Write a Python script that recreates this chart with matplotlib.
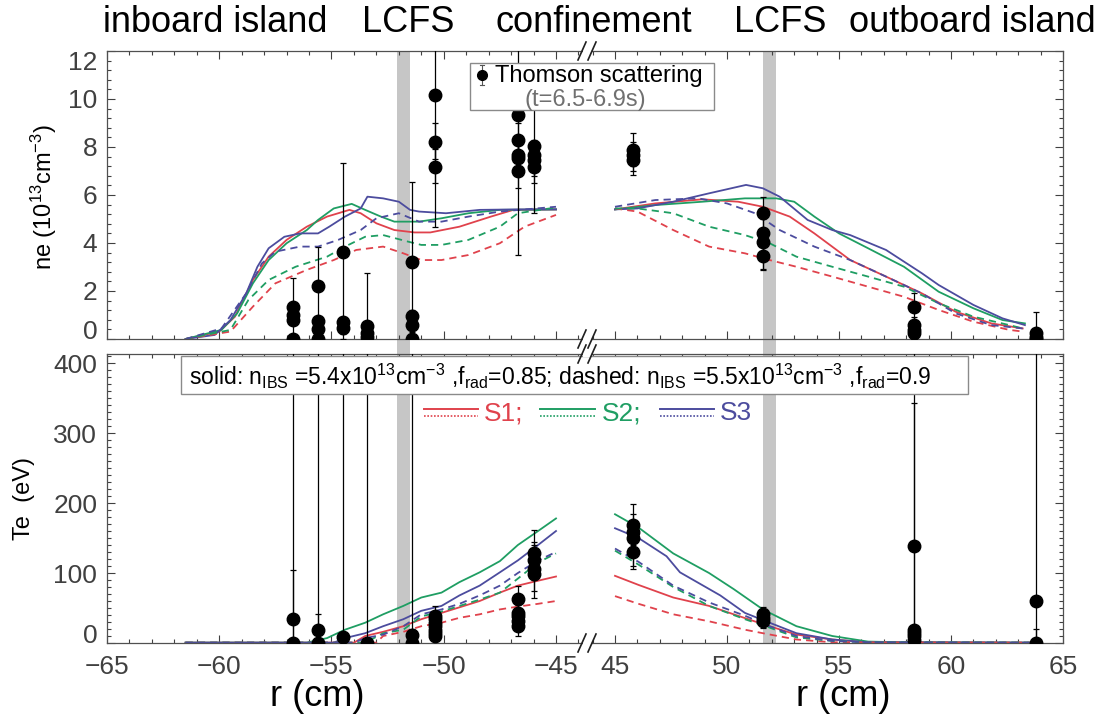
import matplotlib
matplotlib.use('Agg')
import matplotlib.pyplot as plt
from matplotlib.ticker import MultipleLocator
from matplotlib.lines import Line2D
from matplotlib.patches import Rectangle
import matplotlib.transforms as mtransforms
import numpy as np

plt.rcParams['font.family'] = ['Liberation Sans', 'DejaVu Sans']
plt.rcParams['mathtext.fontset'] = 'custom'
plt.rcParams['mathtext.rm'] = 'Liberation Sans'
plt.rcParams['mathtext.it'] = 'Liberation Sans'
plt.rcParams['mathtext.default'] = 'regular'

# ---------------- data ----------------
C_RED = '#e0424c'
C_GREEN = '#1f9e63'
C_BLUE = '#4c4c9e'

# ne, inboard side (solid / dashed, S1 red, S2 green, S3 blue)
ne_in_s1_r = [-61.5, -60.0, -59.3, -58.5, -57.8, -57.0, -56.1, -55.2, -54.2, -53.7, -53.0, -52.2, -51.3, -50.6, -49.3, -47.9, -46.9, -45.0]
ne_in_s1_v = [0.0, 0.31, 0.93, 2.46, 3.43, 4.13, 4.68, 5.10, 5.38, 5.24, 4.82, 4.54, 4.44, 4.44, 4.68, 5.10, 5.38, 5.40]
ne_in_s2_r = [-61.5, -59.9, -59.2, -58.5, -57.8, -57.0, -56.1, -55.6, -54.9, -54.1, -53.5, -52.8, -52.2, -51.1, -50.1, -48.9, -47.5, -45.0]
ne_in_s2_v = [0.0, 0.38, 1.07, 2.32, 3.29, 3.99, 4.54, 4.96, 5.44, 5.63, 5.38, 5.10, 4.89, 4.89, 5.03, 5.24, 5.38, 5.40]
ne_in_s3_r = [-61.5, -60.2, -59.5, -58.8, -58.3, -57.8, -57.1, -56.4, -55.6, -55.1, -54.4, -53.7, -53.4, -52.7, -52.0, -51.5, -51.1, -49.9, -48.4, -46.7, -45.0]
ne_in_s3_v = [0.0, 0.17, 0.79, 1.90, 3.01, 3.78, 4.26, 4.40, 4.40, 4.68, 5.10, 5.44, 5.93, 5.86, 5.72, 5.38, 5.31, 5.24, 5.38, 5.40, 5.40]
ne_in_d1_r = [-61.5, -59.5, -58.5, -57.5, -56.1, -54.9, -53.9, -52.7, -51.8, -51.0, -50.1, -48.9, -47.5, -46.4, -45.0]
ne_in_d1_v = [0.0, 0.31, 1.35, 2.32, 2.88, 3.29, 3.71, 3.85, 3.57, 3.29, 3.29, 3.50, 3.99, 4.68, 5.17]
ne_in_d2_r = [-61.5, -59.5, -58.7, -57.8, -56.6, -55.2, -54.4, -53.5, -52.7, -51.6, -51.0, -50.1, -48.9, -47.5, -46.7, -45.0]
ne_in_d2_v = [0.0, 0.38, 1.63, 2.46, 3.01, 3.43, 3.85, 4.26, 4.33, 4.06, 3.92, 3.92, 4.13, 4.68, 5.24, 5.48]
ne_in_d3_r = [-61.5, -59.9, -58.8, -58.1, -57.5, -56.4, -55.6, -54.7, -53.7, -53.0, -52.0, -51.1, -50.1, -48.9, -47.5, -45.0]
ne_in_d3_v = [0.0, 0.44, 1.90, 3.15, 3.64, 3.85, 3.85, 4.13, 4.54, 5.03, 5.24, 4.89, 4.89, 5.10, 5.31, 5.51]

# ne, outboard side
ne_out_s1_r = [45.0, 46.8, 48.9, 50.5, 51.6, 52.8, 53.9, 55.5, 57.1, 58.7, 60.2, 61.8, 63.2]
ne_out_s1_v = [5.40, 5.65, 5.82, 5.72, 5.51, 5.10, 4.40, 3.29, 2.60, 1.90, 1.14, 0.65, 0.44]
ne_out_s2_r = [45.0, 46.8, 48.9, 50.8, 52.2, 53.0, 53.9, 55.0, 56.3, 57.9, 59.45, 61.0, 62.3, 63.3]
ne_out_s2_v = [5.40, 5.58, 5.72, 5.86, 5.86, 5.72, 5.10, 4.40, 3.78, 3.01, 1.97, 1.28, 0.79, 0.65]
ne_out_s3_r = [45.0, 46.0, 47.6, 49.2, 50.85, 51.6, 52.35, 53.6, 54.7, 55.5, 57.1, 58.7, 59.45, 61.0, 62.3, 63.3]
ne_out_s3_v = [5.40, 5.44, 5.72, 6.07, 6.42, 6.28, 5.93, 4.96, 4.54, 4.33, 3.71, 2.74, 2.25, 1.42, 0.86, 0.58]
ne_out_d1_r = [45.0, 46.0, 47.6, 49.2, 50.8, 51.9, 53.1, 54.7, 56.3, 57.9, 59.45, 61.0, 62.6, 63.2]
ne_out_d1_v = [5.44, 5.31, 4.54, 3.85, 3.57, 3.29, 3.01, 2.60, 2.18, 1.76, 1.21, 0.72, 0.38, 0.31]
ne_out_d2_r = [45.0, 46.0, 47.6, 49.2, 50.8, 51.9, 53.1, 54.7, 56.3, 57.9, 59.45, 61.0, 62.6, 63.2]
ne_out_d2_v = [5.44, 5.44, 5.24, 4.68, 4.33, 3.99, 3.43, 3.01, 2.60, 2.18, 1.49, 0.93, 0.58, 0.44]
ne_out_d3_r = [45.0, 46.8, 48.7, 50.0, 51.25, 52.35, 53.9, 55.5, 57.1, 58.7, 60.2, 61.8, 63.2]
ne_out_d3_v = [5.51, 5.79, 5.86, 5.65, 5.24, 4.54, 3.85, 3.29, 2.60, 1.90, 1.07, 0.58, 0.44]

# Te, inboard side
te_in_s1_r = [-61.5, -54.0, -53.5, -52.7, -51.8, -51.0, -50.1, -49.3, -48.4, -47.5, -46.7, -45.8, -45.0]
te_in_s1_v = [0.5, 0.5, 10, 16, 24, 34, 43, 51, 60, 72, 82, 89, 95]
te_in_s2_r = [-61.5, -56.1, -55.2, -54.4, -53.5, -52.7, -51.8, -51.0, -50.1, -49.3, -48.4, -47.5, -46.7, -45.8, -45.0]
te_in_s2_v = [0.5, 0.5, 7, 19, 29, 41, 53, 65, 72, 87, 101, 117, 140, 160, 178]
te_in_s3_r = [-61.5, -54.9, -54.4, -53.5, -52.7, -51.8, -51.0, -50.1, -49.3, -48.4, -47.5, -46.7, -45.8, -45.0]
te_in_s3_v = [0.5, 0.5, 7, 14, 24, 34, 46, 53, 68, 82, 101, 118, 140, 160]
te_in_d1_r = [-61.5, -53.0, -52.7, -51.8, -51.0, -50.1, -49.3, -48.4, -47.5, -46.7, -45.8, -45.0]
te_in_d1_v = [0.5, 0.5, 10, 16, 24, 29, 36, 41, 48, 52, 56, 60]
te_in_d2_r = [-61.5, -53.5, -52.7, -51.8, -51.0, -50.1, -49.3, -48.4, -47.5, -46.7, -45.8, -45.0]
te_in_d2_v = [0.5, 0.5, 14, 19, 38, 45, 53, 62, 72, 92, 115, 128]
te_in_d3_r = [-61.5, -54.0, -53.5, -52.7, -51.8, -51.0, -50.1, -49.3, -48.4, -47.5, -46.7, -45.8, -45.0]
te_in_d3_v = [0.5, 0.5, 7, 12, 24, 41, 48, 56, 68, 82, 100, 118, 130]

# Te, outboard side
te_out_s1_r = [45.0, 46.05, 47.6, 49.2, 50.3, 51.6, 53.1, 54.7, 56.3, 63.5]
te_out_s1_v = [96, 83, 65, 53, 41, 27, 12, 5, 1, 0.5]
te_out_s2_r = [45.0, 46.05, 47.6, 49.2, 50.3, 51.6, 53.1, 54.7, 56.3, 57.9, 63.5]
te_out_s2_v = [184, 165, 128, 100, 77, 48, 24, 10, 2, 1, 0.5]
te_out_s3_r = [45.0, 46.05, 47.3, 47.9, 49.7, 50.8, 51.9, 53.1, 54.7, 56.3, 63.5]
te_out_s3_v = [164, 150, 124, 101, 68, 43, 29, 14, 5, 1, 0.5]
te_out_d1_r = [45.0, 46.05, 47.6, 49.2, 50.8, 51.6, 53.1, 54.7, 63.5]
te_out_d1_v = [67, 56, 41, 31, 19, 14, 5, 1, 0.5]
te_out_d2_r = [45.0, 46.05, 47.6, 49.2, 50.8, 51.9, 53.1, 54.7, 56.3, 63.5]
te_out_d2_v = [132, 112, 80, 53, 34, 22, 8, 3, 1, 0.5]
te_out_d3_r = [45.0, 46.05, 47.6, 49.2, 50.8, 51.9, 53.1, 54.7, 56.3, 63.5]
te_out_d3_v = [135, 116, 82, 58, 39, 24, 10, 3, 1, 0.5]

# Thomson scattering ne (r, value, error-bar low end, error-bar high end)
ts_ne_in_r = [-56.7, -56.7, -56.7, -56.7, -55.6, -55.6, -55.6, -55.6, -54.5, -54.5, -54.5, -53.4, -53.4, -53.4,
              -51.4, -51.4, -51.4, -51.4, -50.4, -50.4, -50.4, -46.7, -46.7, -46.7, -46.7, -46.7, -46.0, -46.0, -46.0, -46.0]
ts_ne_in_v = [1.35, 1.00, 0.79, 0.0, 2.21, 0.76, 0.40, 0.0, 3.64, 0.72, 0.44, 0.54, 0.24, 0.07,
              3.19, 0.96, 0.58, 0.0, 10.17, 8.19, 7.18, 9.32, 8.29, 7.67, 7.53, 7.01, 8.06, 7.67, 7.46, 7.18]
ts_ne_in_lo = [0.0, 0.8, 0.6, 0.0, 0.0, 0.6, 0.2, 0.0, 0.0, 0.5, 0.2, 0.0, 0.1, 0.0,
               0.0, 0.7, 0.3, 0.0, 4.68, 7.5, 6.5, 3.5, 7.6, 7.0, 6.9, 6.3, 5.24, 7.0, 6.8, 6.5]
ts_ne_in_hi = [2.53, 1.2, 1.0, 0.0, 3.85, 0.9, 0.6, 0.0, 7.35, 0.9, 0.7, 2.74, 0.4, 0.2,
               6.56, 1.2, 0.8, 0.0, 14.0, 9.0, 7.9, 13.0, 9.0, 8.3, 8.1, 7.7, 9.68, 8.3, 8.1, 7.8]
ts_ne_out_r = [45.8, 45.8, 45.8, 51.6, 51.6, 51.6, 51.6, 58.35, 58.35, 58.35, 58.35, 63.8, 63.8, 63.8]
ts_ne_out_v = [7.88, 7.67, 7.46, 5.24, 4.40, 4.06, 3.46, 1.35, 0.58, 0.38, 0.24, 0.24, 0.10, 0.0]
ts_ne_out_lo = [6.83, 7.2, 7.0, 4.6, 2.88, 3.5, 2.9, 0.0, 0.3, 0.1, 0.0, 0.0, 0.0, 0.0]
ts_ne_out_hi = [8.57, 8.2, 8.0, 5.93, 5.0, 4.6, 4.0, 1.90, 0.9, 0.6, 0.5, 1.14, 0.3, 0.0]

# Thomson scattering Te
ts_te_in_r = [-56.7, -56.7, -55.6, -55.6, -54.5, -53.4, -51.4, -51.4,
              -50.4, -50.4, -50.4, -50.4, -50.4, -50.4, -50.4,
              -46.7, -46.7, -46.7, -46.7, -46.7, -46.0, -46.0, -46.0, -46.0]
ts_te_in_v = [34, 0, 19, 0, 8, 0, 12, 0,
              39, 34, 29, 24, 19, 14, 10,
              63, 43, 39, 31, 24, 128, 118, 106, 99]
ts_te_in_lo = [0, 0, 0, 0, 0, 0, 0, 0,
               25, 20, 18, 12, 8, 5, 3,
               40, 30, 25, 20, 10, 100, 90, 65, 75]
ts_te_in_hi = [600, 105, 600, 41, 600, 600, 600, 20,
               53, 45, 40, 35, 30, 25, 18,
               82, 55, 50, 42, 35, 162, 145, 140, 120]
ts_te_out_r = [45.8, 45.8, 45.8, 45.8, 51.6, 51.6, 51.6, 58.35, 58.35, 58.35, 58.35, 58.35, 63.8, 63.8]
ts_te_out_v = [169, 159, 150, 130, 41, 36, 31, 138, 19, 14, 10, 5, 60, 0]
ts_te_out_lo = [140, 130, 106, 110, 30, 25, 22, 0, 0, 5, 3, 0, 0, 0]
ts_te_out_hi = [198, 185, 175, 150, 51, 45, 40, 600, 343, 25, 18, 12, 600, 20]

region_labels = ['inboard island', 'LCFS', 'confinement', 'LCFS', 'outboard island']
lcfs_in = (-52.1, -51.5)
lcfs_out = (51.6, 52.2)

# ---------------- layout ----------------
W, H = 1104, 720
fig = plt.figure(figsize=(W / 100, H / 100), dpi=100)


def fx(px):
    return px / W


def fy(py):
    return 1 - py / H


XL0, XL1, XR0, XR1 = 107, 588, 588, 1063
YT0, YT1, YB0, YB1 = 51, 339, 354, 643

ax_nl = fig.add_axes([fx(XL0), fy(YT1), fx(XL1) - fx(XL0), fy(YT0) - fy(YT1)])
ax_nr = fig.add_axes([fx(XR0), fy(YT1), fx(XR1) - fx(XR0), fy(YT0) - fy(YT1)])
ax_tl = fig.add_axes([fx(XL0), fy(YB1), fx(XL1) - fx(XL0), fy(YB0) - fy(YB1)])
ax_tr = fig.add_axes([fx(XR0), fy(YB1), fx(XR1) - fx(XR0), fy(YB0) - fy(YB1)])

TICKC = '#404040'
for ax, side, bottom_row in [(ax_nl, 'left', False), (ax_nr, 'right', False),
                             (ax_tl, 'left', True), (ax_tr, 'right', True)]:
    ax.set_facecolor('none')
    ax.xaxis.set_major_locator(MultipleLocator(5))
    ax.xaxis.set_minor_locator(MultipleLocator(1))
    for sp in ax.spines.values():
        sp.set_color('#505050')
        sp.set_linewidth(0.9)
    if side == 'left':
        ax.set_xlim(-65, -65 + (XL1 - XL0) / 22.45)
        ax.spines['right'].set_visible(False)
    else:
        ax.set_xlim(65 - (XR1 - XR0) / 22.4, 65)
        ax.spines['left'].set_visible(False)
    ax.tick_params(which='both', direction='in', top=True, bottom=True,
                   left=(side == 'left'), right=(side == 'right'),
                   labelleft=(side == 'left'), labelright=False,
                   labelbottom=bottom_row, labeltop=False,
                   color=TICKC, labelcolor='#404040', labelsize=19, pad=7, width=0.8)
    ax.tick_params(axis='x', which='both', pad=9)
    ax.tick_params(which='major', length=6)
    ax.tick_params(which='minor', length=3)

for ax in (ax_nl, ax_nr):
    ax.set_ylim(0, 12)
    ax.yaxis.set_major_locator(MultipleLocator(2))
    ax.yaxis.set_minor_locator(MultipleLocator(0.4))
for ax in (ax_tl, ax_tr):
    ax.set_ylim(0, 413)
    ax.yaxis.set_major_locator(MultipleLocator(100))
    ax.yaxis.set_minor_locator(MultipleLocator(10))

# LCFS bands (continuous through both panels)
for ax, band in ((ax_nl, lcfs_in), (ax_nr, lcfs_out)):
    tr = mtransforms.blended_transform_factory(ax.transData, fig.transFigure)
    fig.add_artist(Rectangle((band[0], fy(YB1)), band[1] - band[0], fy(YT0) - fy(YB1),
                             transform=tr, facecolor='#c6c6c6', edgecolor='none', zorder=-1))

# model curves
DASH = (4, 2.8)
LW = 1.3
curves = [
    (ax_nl, ne_in_s1_r, ne_in_s1_v, C_RED, False), (ax_nl, ne_in_s2_r, ne_in_s2_v, C_GREEN, False),
    (ax_nl, ne_in_s3_r, ne_in_s3_v, C_BLUE, False), (ax_nl, ne_in_d1_r, ne_in_d1_v, C_RED, True),
    (ax_nl, ne_in_d2_r, ne_in_d2_v, C_GREEN, True), (ax_nl, ne_in_d3_r, ne_in_d3_v, C_BLUE, True),
    (ax_nr, ne_out_s1_r, ne_out_s1_v, C_RED, False), (ax_nr, ne_out_s2_r, ne_out_s2_v, C_GREEN, False),
    (ax_nr, ne_out_s3_r, ne_out_s3_v, C_BLUE, False), (ax_nr, ne_out_d1_r, ne_out_d1_v, C_RED, True),
    (ax_nr, ne_out_d2_r, ne_out_d2_v, C_GREEN, True), (ax_nr, ne_out_d3_r, ne_out_d3_v, C_BLUE, True),
    (ax_tl, te_in_s1_r, te_in_s1_v, C_RED, False), (ax_tl, te_in_s2_r, te_in_s2_v, C_GREEN, False),
    (ax_tl, te_in_s3_r, te_in_s3_v, C_BLUE, False), (ax_tl, te_in_d1_r, te_in_d1_v, C_RED, True),
    (ax_tl, te_in_d2_r, te_in_d2_v, C_GREEN, True), (ax_tl, te_in_d3_r, te_in_d3_v, C_BLUE, True),
    (ax_tr, te_out_s1_r, te_out_s1_v, C_RED, False), (ax_tr, te_out_s2_r, te_out_s2_v, C_GREEN, False),
    (ax_tr, te_out_s3_r, te_out_s3_v, C_BLUE, False), (ax_tr, te_out_d1_r, te_out_d1_v, C_RED, True),
    (ax_tr, te_out_d2_r, te_out_d2_v, C_GREEN, True), (ax_tr, te_out_d3_r, te_out_d3_v, C_BLUE, True),
]
for ax, r, v, c, dashed in curves:
    if dashed:
        ax.plot(r, v, color=c, lw=LW, dashes=DASH, zorder=2)
    else:
        ax.plot(r, v, color=c, lw=LW, zorder=2)


def draw_ts(ax, r, v, lo, hi):
    v = np.asarray(v, dtype=float)
    yerr = np.vstack([v - np.asarray(lo, dtype=float), np.asarray(hi, dtype=float) - v])
    ax.errorbar(r, v, yerr=yerr, fmt='o', color='black', ms=9, elinewidth=0.9,
                capsize=2.5, capthick=0.9, zorder=4)


draw_ts(ax_nl, ts_ne_in_r, ts_ne_in_v, ts_ne_in_lo, ts_ne_in_hi)
draw_ts(ax_nr, ts_ne_out_r, ts_ne_out_v, ts_ne_out_lo, ts_ne_out_hi)
draw_ts(ax_tl, ts_te_in_r, ts_te_in_v, ts_te_in_lo, ts_te_in_hi)
draw_ts(ax_tr, ts_te_out_r, ts_te_out_v, ts_te_out_lo, ts_te_out_hi)

# axis break marks
for yb in (YT0, YT1, YB0, YB1):
    fig.add_artist(Rectangle((fx(583), fy(yb + 3)), fx(591) - fx(583), fy(yb - 3) - fy(yb + 3),
                             transform=fig.transFigure, facecolor='white', edgecolor='none', zorder=9))
    for x0 in (578, 588):
        fig.add_artist(Line2D([fx(x0), fx(x0 + 8)], [fy(yb + 9), fy(yb - 9)],
                              transform=fig.transFigure, color='#202020', lw=1.2, zorder=10))

# top region labels
for lab, xc in zip(region_labels, [215, 408, 594, 780, 972]):
    fig.text(fx(xc), fy(22), lab, ha='center', va='center', fontsize=26, color='black')

# axis labels
fig.text(fx(44), fy(197), r'ne (10$^{13}$cm$^{-3}$)', rotation=90, ha='center', va='center', fontsize=17)
fig.text(fx(24), fy(498), 'Te  (eV)', rotation=90, ha='center', va='center', fontsize=17)
fig.text(fx(317), fy(697), 'r (cm)', ha='center', va='center', fontsize=26)
fig.text(fx(843), fy(697), 'r (cm)', ha='center', va='center', fontsize=26)

# Thomson legend box
fig.add_artist(Rectangle((fx(470), fy(110)), fx(714) - fx(470), fy(63) - fy(110),
                         transform=fig.transFigure, facecolor='white', edgecolor='#8a8a8a', lw=1.0, zorder=6))
fig.add_artist(Line2D([fx(482), fx(482)], [fy(85), fy(65)], transform=fig.transFigure,
                      color='#555555', lw=0.8, zorder=7))
for yc in (65, 85):
    fig.add_artist(Line2D([fx(480), fx(484)], [fy(yc), fy(yc)], transform=fig.transFigure,
                          color='#555555', lw=0.8, zorder=7))
fig.add_artist(Line2D([fx(482)], [fy(75)], transform=fig.transFigure, marker='o', ms=7,
                      color='black', zorder=8))
fig.text(fx(495), fy(76), 'Thomson scattering', ha='left', va='center', fontsize=17, zorder=8)
fig.text(fx(585), fy(100), '(t=6.5-6.9s)', ha='center', va='center', fontsize=17, color='#707070', zorder=8)

# model legend box
fig.add_artist(Rectangle((fx(181), fy(394)), fx(968) - fx(181), fy(356) - fy(394),
                         transform=fig.transFigure, facecolor='white', edgecolor='#8a8a8a', lw=1.0, zorder=6))
fig.text(fx(189), fy(376),
         r'solid: n$_{IBS}$ =5.4x10$^{13}$cm$^{-3}$ ,f$_{rad}$=0.85; dashed: n$_{IBS}$ =5.5x10$^{13}$cm$^{-3}$ ,f$_{rad}$=0.9',
         ha='left', va='center', fontsize=16.5, zorder=8)
for (x0, x1, xt, c, lab) in [(424, 478, 484, C_RED, 'S1;'), (540, 595, 602, C_GREEN, 'S2;'),
                             (660, 714, 720, C_BLUE, 'S3')]:
    fig.add_artist(Line2D([fx(x0), fx(x1)], [fy(409), fy(409)], transform=fig.transFigure,
                          color=c, lw=1.4, zorder=8))
    fig.add_artist(Line2D([fx(x0), fx(x1)], [fy(416), fy(416)], transform=fig.transFigure,
                          color=c, lw=1.2, ls=(0, (1, 1)), zorder=8))
    fig.text(fx(xt), fy(413), lab, ha='left', va='center', fontsize=19, color=c, zorder=8)

# shift the extreme y tick labels inward (as in the reference)
fig.canvas.draw()
for ax in (ax_nl, ax_tl):
    ymax = ax.get_ylim()[1]
    for tick in ax.yaxis.get_major_ticks():
        loc = tick.get_loc()
        if abs(loc) < 1e-9:
            dy = 7
        elif abs(loc - 12) < 1e-9 and ymax <= 12.01:
            dy = -7
        else:
            continue
        tick.label1.set_transform(tick.label1.get_transform() +
                                  mtransforms.ScaledTranslation(0, dy / 72, fig.dpi_scale_trans))

fig.savefig('out.png', dpi=100)
